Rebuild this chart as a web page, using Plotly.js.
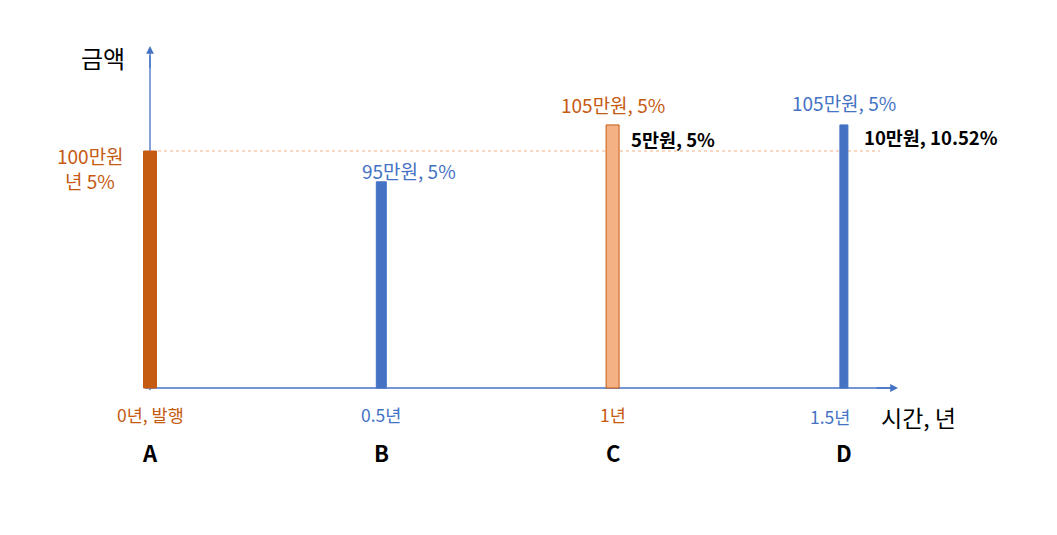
<!DOCTYPE html>
<html>
<head>
<meta charset="utf-8">
<script src="https://cdn.plot.ly/plotly-3.0.1.min.js"></script>
<style>html,body{margin:0;padding:0;background:#fff;}#chart{width:1057px;height:535px;}</style>
</head>
<body>
<div id="chart"></div>
<script>
// ---- data ----
const points = ["A", "B", "C", "D"];
const timeYears = [0, 0.5, 1, 1.5];
const barHeights = [100, 87, 111, 111];          // drawn heights (schematic)
const timeLabels = ["0년, 발행", "0.5년", "1년", "1.5년"];
const amountLabels = ["100만원<br>년 5%", "95만원, 5%", "105만원, 5%", "105만원, 5%"];
const gainLabels = ["", "", "5만원, 5%", "10만원, 10.52%"];
const refLevel = 100;
const yAxisTitle = "금액";
const xAxisTitle = "시간, 년";

// ---- style ----
const ORANGE = "#c55a11", BLUE = "#4472c4", LIGHT = "#f4b183";
const FONT = "Noto Sans CJK KR, Noto Sans, sans-serif";
const barFill = [ORANGE, BLUE, LIGHT, BLUE];
const barLine = [ORANGE, BLUE, ORANGE, BLUE];
const textColor = [ORANGE, BLUE, ORANGE, BLUE];
const barWidth = [0.028, 0.0216, 0.028, 0.0173];

const PX = 462.6, X0 = 150, BASE = 388, PY = 2.37;
const xr = [-X0 / PX, (1057 - X0) / PX];
const yr = [-(535 - BASE) / PY, BASE / PY];
const yTop = 144.3, xEnd = (898 - X0) / PX, xStart = (145 - X0) / PX;

const trace = {
  type: "bar", x: timeYears, y: barHeights, width: barWidth,
  marker: {color: barFill, line: {color: barLine, width: 1}},
  hoverinfo: "none", showlegend: false
};

const ann = [];
// arrow heads (short segments at the axis ends)
ann.push({xref: "x", yref: "y", axref: "x", ayref: "y", x: 0, y: yTop, ax: 0, ay: yTop - 10,
  text: "", showarrow: true, arrowhead: 2, arrowsize: 1.2, arrowwidth: 1.3, arrowcolor: BLUE, standoff: 0, startstandoff: 0});
ann.push({xref: "x", yref: "y", axref: "x", ayref: "y", x: xEnd, y: 0, ax: xEnd - 0.05, ay: 0,
  text: "", showarrow: true, arrowhead: 2, arrowsize: 1.2, arrowwidth: 1.3, arrowcolor: BLUE, standoff: 0, startstandoff: 0});
// axis titles
ann.push({xref: "x", yref: "y", x: 0, y: yTop, xshift: -47, yshift: -11, xanchor: "center", yanchor: "middle",
  text: yAxisTitle, showarrow: false, font: {family: FONT, size: 24, color: "#000"}});
ann.push({xref: "x", yref: "y", x: xEnd, y: 0, xshift: -19, yshift: -29, xanchor: "left", yanchor: "middle",
  text: xAxisTitle, showarrow: false, font: {family: FONT, size: 23, color: "#000"}});

const amtShift = [[-60, 0], [28, 11], [0, 20], [0, 22]];
const tickShift = [[0, -26], [0, -26], [0, -26], [-14, -28]];
const gainShift = [[0, 0], [0, 0], [16, -14], [18, -12]];
for (let i = 0; i < points.length; i++) {
  const lines = amountLabels[i].split("<br>");
  const firstShift = lines.length > 1 ? -4 : amtShift[i][1];
  lines.forEach((ln, k) => {
    ann.push({xref: "x", yref: "y", x: timeYears[i], y: barHeights[i], xshift: amtShift[i][0],
      yshift: lines.length > 1 ? -4 - 25 * k : amtShift[i][1],
      xanchor: "center", yanchor: "middle", text: ln, showarrow: false,
      font: {family: FONT, size: 19, color: textColor[i]}});
  });
  ann.push({xref: "x", yref: "y", x: timeYears[i], y: 0, xshift: tickShift[i][0], yshift: tickShift[i][1],
    xanchor: "center", yanchor: "middle", text: timeLabels[i], showarrow: false,
    font: {family: FONT, size: 17.5, color: textColor[i]}});
  ann.push({xref: "x", yref: "y", x: timeYears[i], y: 0, yshift: -64,
    xanchor: "center", yanchor: "middle", text: "<b>" + points[i] + "</b>", showarrow: false,
    font: {family: FONT, size: 22, color: "#000"}});
  if (gainLabels[i]) {
    ann.push({xref: "x", yref: "y", x: timeYears[i], y: barHeights[i], xshift: gainShift[i][0], yshift: gainShift[i][1],
      xanchor: "left", yanchor: "middle", text: "<b>" + gainLabels[i] + "</b>", showarrow: false,
      font: {family: FONT, size: 18.5, color: "#000"}});
  }
}

const layout = {
  width: 1057, height: 535,
  margin: {l: 0, r: 0, t: 0, b: 0},
  paper_bgcolor: "#fff", plot_bgcolor: "#fff",
  xaxis: {range: xr, visible: false, fixedrange: true},
  yaxis: {range: yr, visible: false, fixedrange: true},
  shapes: [
    {type: "line", xref: "x", yref: "y", x0: 8 / PX, x1: (880 - X0) / PX, y0: refLevel, y1: refLevel,
      line: {color: LIGHT, width: 1.2, dash: "dot"}, layer: "below"},
    {type: "line", xref: "x", yref: "y", x0: 0, x1: 0, y0: -1, y1: yTop - 4,
      line: {color: BLUE, width: 1.3}, layer: "below"},
    {type: "line", xref: "x", yref: "y", x0: xStart, x1: xEnd - 0.01, y0: 0, y1: 0,
      line: {color: BLUE, width: 1.3}, layer: "below"}
  ],
  annotations: ann,
  bargap: 0
};

Plotly.newPlot("chart", [trace], layout, {displayModeBar: false, staticPlot: true});
</script>
</body>
</html>
